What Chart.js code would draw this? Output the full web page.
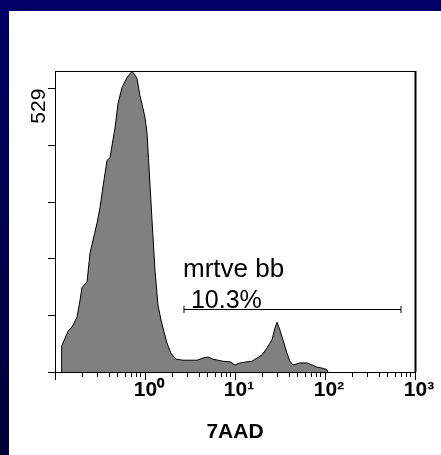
<!DOCTYPE html>
<html><head><meta charset="utf-8">
<script src="https://cdn.jsdelivr.net/npm/chart.js@4.4.1/dist/chart.umd.min.js"></script>
<style>
html,body{margin:0;padding:0;overflow:hidden;}
body{width:441px;height:455px;background:linear-gradient(#000066,#000038);position:relative;}
#panel{position:absolute;left:9px;top:11px;right:0;bottom:0;background:#fff;}
#c{position:absolute;left:0;top:0;}
</style></head><body>
<div id="panel"></div>
<canvas id="c" width="441" height="455"></canvas>
<script>
// log10 of 7AAD intensity (decades) and event counts
const logChannel = [-0.933,-0.926,-0.889,-0.856,-0.811,-0.756,-0.722,-0.700,-0.644,-0.611,
  -0.533,-0.500,-0.456,-0.422,-0.389,-0.333,-0.300,-0.256,-0.200,-0.167,
  -0.144,-0.122,-0.089,-0.056,-0.022,0.000,0.022,0.039,0.056,0.078,
  0.111,0.144,0.178,0.211,0.244,0.289,0.344,0.422,0.500,0.578,
  0.644,0.700,0.756,0.811,0.867,0.944,1.000,1.056,1.133,1.189,
  1.244,1.300,1.356,1.411,1.444,1.467,1.500,1.533,1.578,1.611,
  1.644,1.722,1.800,1.856,1.911,1.978,2.022,2.033];
const counts = [0,48,63,76,84,102,134,158,168,222,
  278,307,358,395,400,456,501,531,550,557,
  561,557,548,516,492,475,447,399,348,283,
  190,125,97,75,54,35,24,22,22,22,
  26,28,24,22,20,19,13,17,19,20,
  26,32,45,60,82,93,78,60,35,20,
  13,17,17,13,9,7,4,0];
const xMajorTicks = [-1, 0, 1, 2, 3];
const xTickLabels = ['', '10\u2070', '10\u00b9', '10\u00b2', '10\u00b3'];
const yTickValues = [0, 105.8, 211.6, 317.4, 423.2, 529];
const yTickLabels = ['', '', '', '', '', '529'];
const gateRange = [0.433, 2.844];
const gateLevel = 117;
const gateName = 'mrtve bb';
const gatePercent = ' 10.3%';
const xTitle = '7AAD';

const FAMILY = '"Liberation Sans", Arial, sans-serif';
const xTickValues = [];
for (let n = -1; n < 3; n++) {
  xTickValues.push(n);
  for (let k = 2; k <= 9; k++) xTickValues.push(n + Math.log10(k));
}
xTickValues.push(3);
const isMajor = v => xMajorTicks.indexOf(v) >= 0;

const framePlugin = {
  id: 'frame',
  afterDraw(chart) {
    const {ctx, chartArea: a} = chart;
    ctx.save();
    ctx.strokeStyle = '#000';
    ctx.lineWidth = 1;
    ctx.beginPath();
    ctx.moveTo(a.left + 0.5, a.top + 0.5);
    ctx.lineTo(a.right + 0.5, a.top + 0.5);
    ctx.stroke();
    ctx.lineWidth = 2;
    ctx.beginPath();
    ctx.moveTo(a.right + 0.5, a.top);
    ctx.lineTo(a.right + 0.5, a.bottom);
    ctx.stroke();
    ctx.restore();
  }
};

const gatePlugin = {
  id: 'gate',
  afterDatasetsDraw(chart) {
    const {ctx, scales: {x, y}} = chart;
    const x1 = x.getPixelForValue(gateRange[0]);
    const x2 = x.getPixelForValue(gateRange[1]);
    const gy = Math.round(y.getPixelForValue(gateLevel)) + 0.5;
    ctx.save();
    ctx.strokeStyle = '#000';
    ctx.lineWidth = 1;
    ctx.beginPath();
    ctx.moveTo(x1, gy); ctx.lineTo(x2, gy);
    ctx.moveTo(x1, gy - 3.5); ctx.lineTo(x1, gy + 3.5);
    ctx.moveTo(x2, gy - 3.5); ctx.lineTo(x2, gy + 3.5);
    ctx.stroke();
    ctx.fillStyle = '#000';
    ctx.textAlign = 'left';
    ctx.textBaseline = 'alphabetic';
    ctx.font = '26px ' + FAMILY;
    ctx.fillText(gateName, x1 - 1, gy - 33);
    ctx.font = '25px ' + FAMILY;
    ctx.fillText(gatePercent, x1, gy - 2);
    ctx.restore();
  }
};

new Chart(document.getElementById('c'), {
  type: 'line',
  data: {
    datasets: [{
      data: logChannel.map((v, i) => ({x: v, y: counts[i]})),
      fill: 'origin',
      backgroundColor: '#808080',
      borderColor: '#000',
      borderWidth: 1,
      pointRadius: 0,
      tension: 0
    }]
  },
  options: {
    responsive: false,
    animation: false,
    layout: {padding: {top: 71, right: 26, left: 0, bottom: 0}},
    plugins: {legend: {display: false}, tooltip: {enabled: false}},
    scales: {
      x: {
        type: 'linear', position: 'bottom', min: -1, max: 3,
        afterBuildTicks: s => { s.ticks = xTickValues.map(v => ({value: v})); },
        afterFit: s => { s.height = 83; },
        grid: {
          drawOnChartArea: false, drawTicks: true, tickLength: 8,
          tickColor: '#000', tickWidth: 1,
          tickBorderDash: c => (c.tick && !isMajor(c.tick.value)) ? [4, 20] : []
        },
        border: {display: true, color: '#000', width: 1},
        ticks: {
          autoSkip: false, maxRotation: 0, minRotation: 0, padding: -2, labelOffset: 4,
          color: '#000', font: {family: FAMILY, size: 21, weight: 'bold'},
          callback: v => { const i = xMajorTicks.indexOf(v); return i >= 0 ? xTickLabels[i] : ''; }
        },
        title: {display: true, text: xTitle, color: '#000',
          font: {family: FAMILY, size: 21, weight: 'bold'}, padding: {top: 0, bottom: 10}}
      },
      y: {
        type: 'linear', position: 'left', min: 0, max: 562,
        afterBuildTicks: s => { s.ticks = yTickValues.map(v => ({value: v})); },
        afterFit: s => { s.width = 55; },
        grid: {drawOnChartArea: false, drawTicks: true, tickLength: 7, tickColor: '#000'},
        border: {display: true, color: '#000', width: 1},
        ticks: {
          autoSkip: false, minRotation: 90, maxRotation: 90, padding: 9,
          color: '#000', font: {family: FAMILY, size: 21},
          callback: (v, i) => yTickLabels[i]
        }
      }
    }
  },
  plugins: [gatePlugin, framePlugin]
});
</script>
</body></html>
